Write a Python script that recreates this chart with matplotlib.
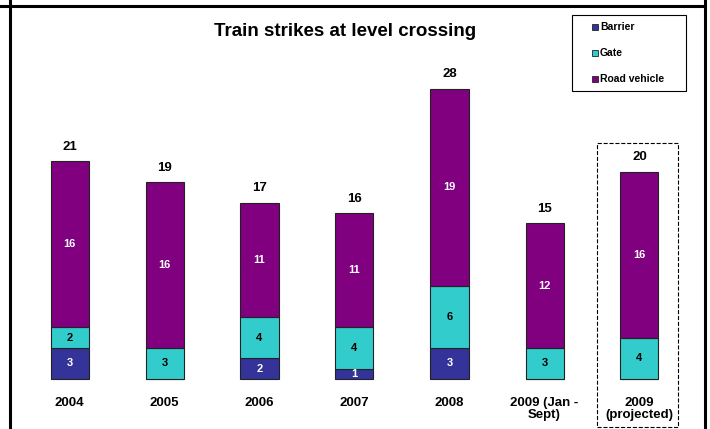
import matplotlib
matplotlib.use('Agg')
import matplotlib.pyplot as plt
from matplotlib.lines import Line2D
from matplotlib.patches import Rectangle

plt.rcParams['font.family'] = ['Liberation Sans', 'DejaVu Sans']
plt.rcParams['font.weight'] = 'bold'

# strikes per year, split by what was hit
years = ['2004', '2005', '2006', '2007', '2008', '2009 (Jan -\nSept)', '2009\n(projected)']
barrier = [3, 0, 2, 1, 3, 0, 0]
gate = [2, 3, 4, 4, 6, 3, 4]
road_vehicle = [16, 16, 11, 11, 19, 12, 16]

series = [('Barrier', barrier, '#333399', 'white'),
          ('Gate', gate, '#33CCCC', 'black'),
          ('Road vehicle', road_vehicle, '#800080', 'white')]

W, H = 710, 429
fig = plt.figure(figsize=(W / 100, H / 100), dpi=100)
ax = fig.add_axes([0, 0, 1, 1])

# pixel layout -> data limits: bar pitch 95px, 10.37px per strike, base at y=379
pitch, unit, x0, base = 95.0, 10.37, 69.5, 379.0
ax.set_xlim((0 - x0) / pitch, (W - x0) / pitch)
ax.set_ylim(-(H - base) / unit, base / unit)
ax.axis('off')

xs = list(range(len(years)))
bottom = [0] * len(years)
for name, vals, color, tcol in series:
    ax.bar(xs, vals, 0.4, bottom=bottom, color=color, edgecolor='#222222', linewidth=0.8)
    for i, v in enumerate(vals):
        if v:
            ax.text(i, bottom[i] + v / 2, str(v), ha='center', va='center',
                    fontsize=8, fontweight='bold', color=tcol)
    bottom = [b + v for b, v in zip(bottom, vals)]

for i, total in enumerate(bottom):
    ax.annotate(str(total), (i, total), xytext=(0, 6), textcoords='offset points',
                ha='center', va='bottom', fontsize=9.5, fontweight='bold')
    ax.text(i, -(397 - base) / unit, years[i], ha='center', va='top',
            fontsize=9.5, fontweight='bold', linespacing=1.05)

# dashed frame around the projected year
ax.add_patch(Rectangle(((597 - x0) / pitch, -(427 - base) / unit), 81 / pitch, 284 / unit,
                       fill=False, ls='--', lw=0.8, ec='black', clip_on=False))

ax.text((345 - x0) / pitch, (base - 31) / unit, 'Train strikes at level crossing',
        ha='center', va='center', fontsize=13.5, fontweight='bold')

# legend box, drawn in pixel units from the top-left corner
def fx(px):
    return px / W

def fy(py):
    return 1 - py / H

fig.add_artist(Rectangle((fx(572), fy(91)), fx(114), 76 / H, fill=False, ec='black', lw=0.8))
for (name, vals, color, tcol), py in zip(series, [26.5, 53, 79]):
    fig.add_artist(Line2D([fx(595)], [fy(py)], marker='s', ls='', markersize=5,
                          markerfacecolor=color, markeredgecolor='#222222', markeredgewidth=0.6))
    fig.text(fx(600), fy(py), name, ha='left', va='center', fontsize=7.5, fontweight='bold')

# outer frame lines: left, top, right
for xy in [([9.5, 9.5], [0, H]), ([0, 705], [H - 6, H - 6]), ([704.5, 704.5], [0, H])]:
    fig.add_artist(Line2D([xy[0][0] / W, xy[0][1] / W], [xy[1][0] / H, xy[1][1] / H],
                          color='black', lw=2.2))

fig.savefig('out.png', dpi=100)
